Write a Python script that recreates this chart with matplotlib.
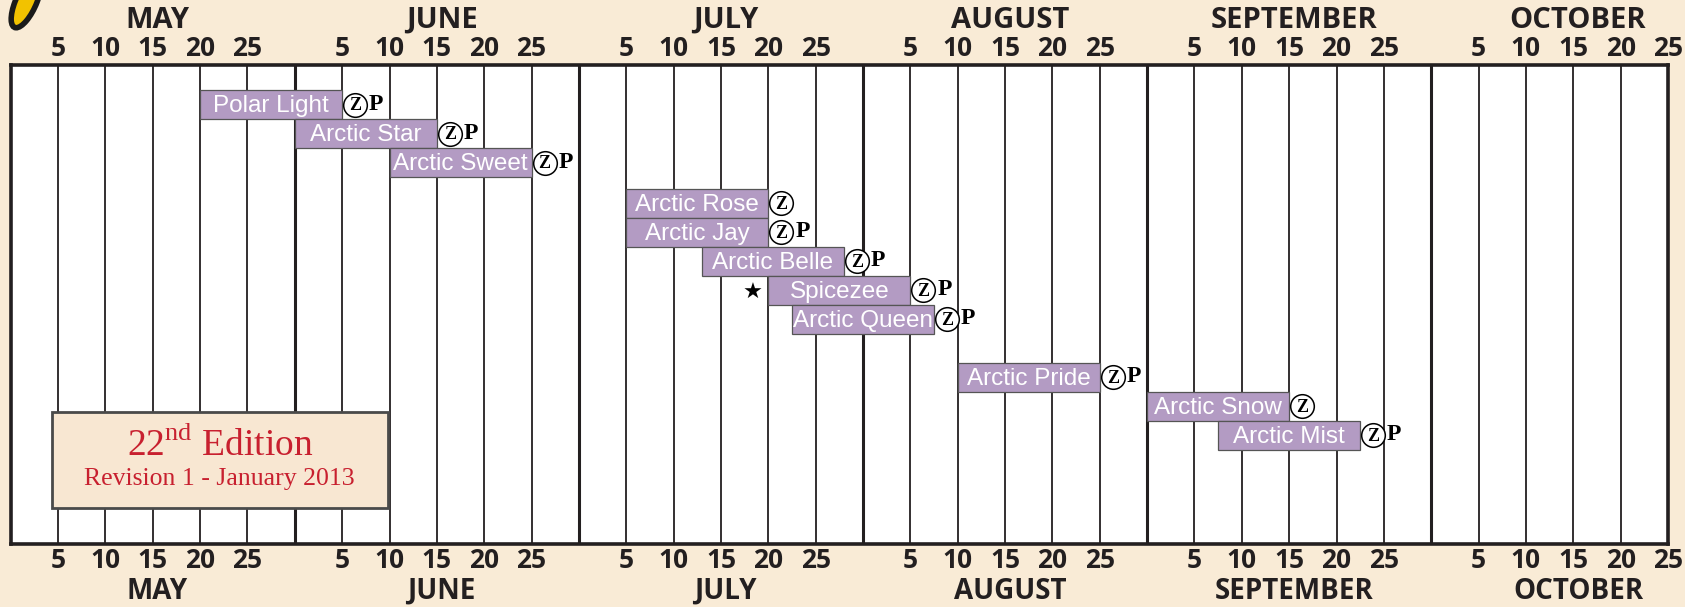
import matplotlib
matplotlib.use("Agg")
import matplotlib.pyplot as plt
from matplotlib.patches import Rectangle, Ellipse

# ---------------- data ----------------
months = ["MAY", "JUNE", "JULY", "AUGUST", "SEPTEMBER", "OCTOBER"]
day_ticks = [5, 10, 15, 20, 25]

varieties = ["Polar Light", "Arctic Star", "Arctic Sweet", "Arctic Rose", "Arctic Jay",
             "Arctic Belle", "Spicezee", "Arctic Queen", "Arctic Pride", "Arctic Snow",
             "Arctic Mist"]
start_month = ["MAY", "MAY", "JUNE", "JULY", "JULY", "JULY", "JULY", "JULY",
               "AUGUST", "AUGUST", "SEPTEMBER"]
start_day = [20, 30, 10, 5, 5, 13, 20, 22.5, 10, 30, 7.5]
end_month = ["JUNE", "JUNE", "JUNE", "JULY", "JULY", "JULY", "AUGUST", "AUGUST",
             "AUGUST", "SEPTEMBER", "SEPTEMBER"]
end_day = [5, 15, 25, 20, 20, 28, 5, 7.5, 25, 15, 22.5]
marks = ["ZP", "ZP", "ZP", "Z", "ZP", "ZP", "ZP", "ZP", "ZP", "Z", "ZP"]
starred = ["Spicezee"]
group = [0, 0, 0, 1, 1, 1, 1, 1, 2, 2, 2]

edition_title = "22"
edition_sup = "nd"
edition_rest = " Edition"
edition_sub = "Revision 1 - January 2013"

# ---------------- style ----------------
BG = "#F9EBD6"
BAR = "#B39BC3"
INK = "#231F20"
RED = "#C8202F"

plt.rcParams["mathtext.fontset"] = "custom"
plt.rcParams["mathtext.rm"] = "Liberation Serif"

W, H = 1685, 607
fig = plt.figure(figsize=(W / 100, H / 100), dpi=100, facecolor=BG)

left_px, right_px, top_px, bot_px = 10.7, 1668, 64.5, 544
ax = fig.add_axes([left_px / W, 1 - bot_px / H, (right_px - left_px) / W,
                   (bot_px - top_px) / H])
ax.set_facecolor("white")

n_slots = 6 * (len(months) - 1) + len(day_ticks)
ax.set_xlim(0, n_slots)
row_px0, row_h = 104.8, 29.0
ax.set_ylim((bot_px - row_px0) / row_h, (top_px - row_px0) / row_h)


def slot(month, day):
    return months.index(month) * 6 + day / 5.0


def ax_y(px):
    return (bot_px - px) / (bot_px - top_px)


# grid lines
for s in range(1, n_slots):
    major = (s % 6 == 0)
    ax.axvline(s, color=INK, lw=2.2 if major else 1.3, zorder=1)

for sp in ax.spines.values():
    sp.set_linewidth(2.6)
    sp.set_color(INK)

# tick labels (days), both top and bottom
tick_pos = [m * 6 + d / 5 for m in range(len(months)) for d in day_ticks]
tick_lab = [str(d) for m in range(len(months)) for d in day_ticks]
ax.set_xticks(tick_pos)
ax.set_xticklabels(tick_lab)
ax.set_yticks([])
ax.tick_params(axis="x", top=True, labeltop=True, bottom=True, labelbottom=True,
               length=0, labelsize=19, labelcolor=INK, pad=2)
for t in ax.xaxis.get_major_ticks():
    for lab in (t.label1, t.label2):
        lab.set_fontfamily("Open Sans")
        lab.set_fontweight("bold")

# month labels
xt = ax.get_xaxis_transform()
for m, name in enumerate(months):
    ax.text(m * 6 + 3.1, ax_y(20.5), name, transform=xt, ha="center",
            va="center", fontsize=21, fontweight="bold", family="Open Sans",
            color=INK, clip_on=False)
    ax.text(m * 6 + 3.1, ax_y(599), name, transform=xt, ha="center",
            va="baseline", fontsize=20, fontweight="bold", family="Open Sans",
            color=INK, clip_on=False)

# bars
offsets = [0.0, 0.4, 1.4]
row_pos = [i + offsets[g] for i, g in enumerate(group)]
starts = [slot(m, d) for m, d in zip(start_month, start_day)]
ends = [slot(m, d) for m, d in zip(end_month, end_day)]
widths = [e - s for s, e in zip(starts, ends)]
ax.barh(row_pos, widths, left=starts, height=1.0, color=BAR,
        edgecolor="#555555", linewidth=0.9, zorder=3)

px_per_slot = (right_px - left_px) / n_slots
for name, y, s, e, mk in zip(varieties, row_pos, starts, ends, marks):
    ax.text((s + e) / 2, y + 0.05, name, ha="center", va="center", color="white",
            fontsize=17.5, family="Liberation Sans", zorder=4)
    zx = e + 13 / px_per_slot
    ax.plot([zx], [y], marker="o", ms=17, mfc="white", mec="black", mew=1.1,
            zorder=5, clip_on=False)
    ax.text(zx, y + 0.03, "Z", ha="center", va="center", fontsize=13,
            fontweight="bold", family="Liberation Serif", color="black", zorder=6)
    if "P" in mk:
        ax.text(e + 34 / px_per_slot, y - 0.02, "P", ha="center", va="center",
                fontsize=17, fontweight="bold", family="Liberation Serif",
                color="black", zorder=6)
    if name in starred:
        ax.text(s - 16 / px_per_slot, y + 0.08, "\u2605", ha="center", va="center",
                fontsize=16, family="DejaVu Sans", color="black", zorder=6)

# edition box
bx0 = (51.7 - left_px) / px_per_slot
bx1 = (387.7 - left_px) / px_per_slot
by0 = (412 - row_px0) / row_h
by1 = (508 - row_px0) / row_h
ax.add_patch(Rectangle((bx0, by0), bx1 - bx0, by1 - by0, facecolor="#F8E7D2",
                       edgecolor="#4a4a4a", linewidth=2.0, zorder=7))
bxc = (bx0 + bx1) / 2
ax.text(bxc, (445 - row_px0) / row_h,
        edition_title + r"$^{\mathrm{" + edition_sup + "}}$" + edition_rest,
        ha="center", va="center", fontsize=27, family="Liberation Serif",
        color=RED, zorder=8)
ax.text(bxc, (479 - row_px0) / row_h, edition_sub, ha="center", va="center",
        fontsize=18.5, family="Liberation Serif", color=RED, zorder=8)

# partial yellow logo at top-left corner
fig.patches.append(Ellipse((26 / W, 1 - 2 / H), 22 / W, 52 / H, angle=-8,
                           facecolor="#F2C200", edgecolor="#1a1a1a", lw=4,
                           transform=fig.transFigure, figure=fig))

fig.savefig("out.png", dpi=100, facecolor=BG)
